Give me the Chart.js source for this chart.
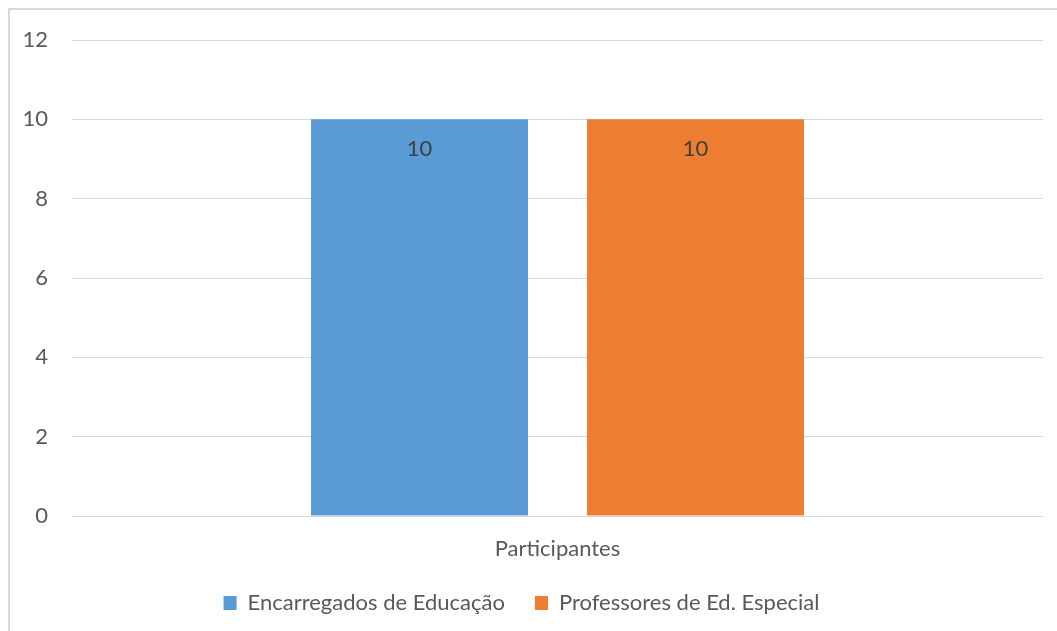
<!DOCTYPE html>
<html>
<head>
<meta charset="utf-8">
<script src="https://cdn.jsdelivr.net/npm/chart.js@4"></script>
<style>
  html, body { margin: 0; padding: 0; background: #fff; overflow: hidden; }
  #wrap { position: relative; width: 1057px; height: 631px; }
  #frame {
    position: absolute; left: 8px; top: 8px; width: 1100px; height: 700px;
    border-left: 2px solid #d9d9d9; border-top: 2px solid #d9d9d9;
  }
  canvas { position: absolute; left: 0; top: 0; }
</style>
</head>
<body>
<div id="wrap">
  <div id="frame"></div>
  <canvas id="chart" width="1057" height="631"></canvas>
</div>
<script>
// ── Dados ──
const categories = ['Participantes'];
const seriesNames = ['Encarregados de Educação', 'Professores de Ed. Especial'];
const encarregados = [10];
const professores = [10];
const yTicks = [0, 2, 4, 6, 8, 10, 12];

const FONT = "Lato, 'Open Sans', sans-serif";
const TXT = '#595959';

// ── Plugin: valor dentro do topo da barra ──
const innerLabels = {
  id: 'innerLabels',
  afterDatasetsDraw(chart) {
    const ctx = chart.ctx;
    chart.data.datasets.forEach((ds, di) => {
      chart.getDatasetMeta(di).data.forEach((bar, bi) => {
        const { x, y } = bar.getProps(['x', 'y'], true);
        ctx.save();
        ctx.font = `22px ${FONT}`;
        ctx.fillStyle = '#404040';
        ctx.textAlign = 'center';
        ctx.textBaseline = 'middle';
        ctx.fillText(String(ds.data[bi]), x, y + 30);
        ctx.restore();
      });
    });
  },
};

new Chart(document.getElementById('chart'), {
  type: 'bar',
  data: {
    labels: categories,
    datasets: [
      { label: seriesNames[0], data: encarregados, backgroundColor: '#5b9bd5' },
      { label: seriesNames[1], data: professores, backgroundColor: '#ed7d31' },
    ].map(ds => ({ ...ds, categoryPercentage: 0.5685, barPercentage: 0.786, borderWidth: 0 })),
  },
  plugins: [innerLabels],
  options: {
    responsive: false,
    animation: false,
    layout: { padding: { top: 40, right: 14, bottom: 7, left: 0 } },
    plugins: {
      legend: {
        position: 'bottom',
        labels: {
          boxWidth: 13, boxHeight: 14, padding: 30,
          color: TXT, font: { family: FONT, size: 22 },
        },
      },
      tooltip: { enabled: false },
    },
    scales: {
      x: {
        afterFit: s => { s.height = 46; },
        grid: { display: false, drawTicks: false },
        border: { display: false },
        ticks: { padding: 20, color: TXT, font: { family: FONT, size: 22 } },
      },
      y: {
        min: 0, max: 12,
        afterFit: s => { s.width = 72; },
        afterBuildTicks: s => { s.ticks = yTicks.map(v => ({ value: v })); },
        grid: { color: '#d9d9d9', lineWidth: 1, drawTicks: false },
        border: { display: false },
        ticks: { padding: 24, color: TXT, font: { family: FONT, size: 22 } },
      },
    },
  },
});
</script>
</body>
</html>
